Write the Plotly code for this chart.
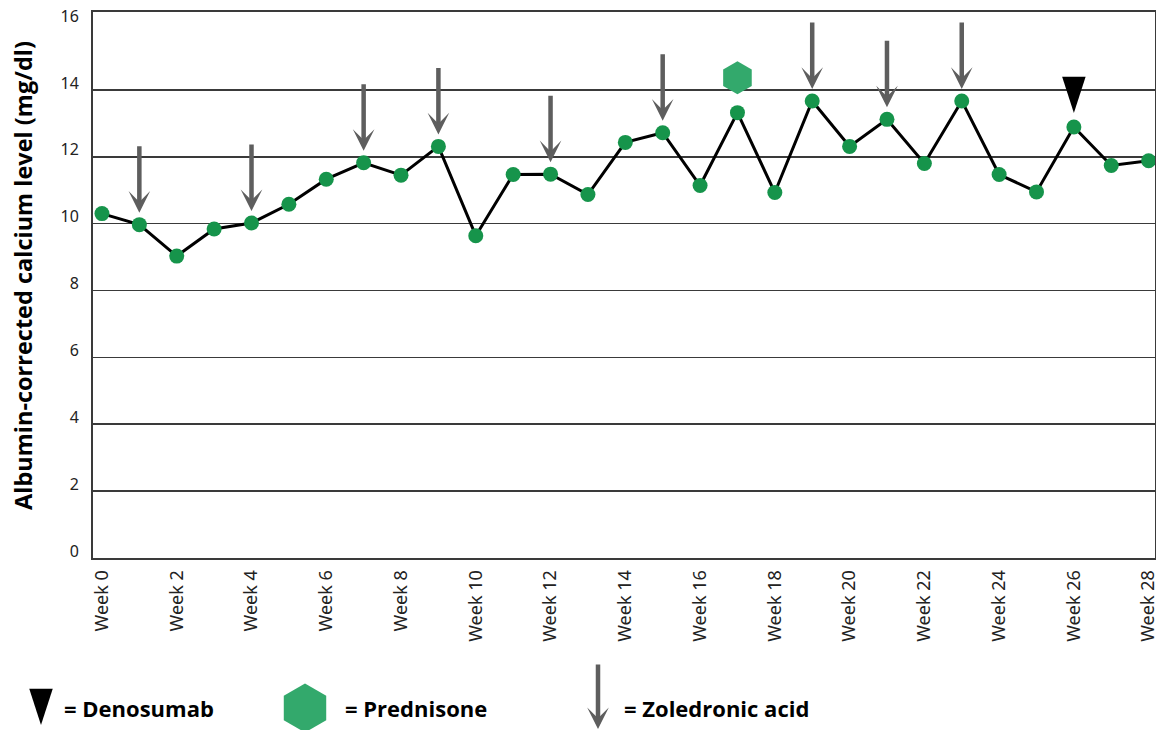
import plotly.graph_objects as go

# ---------------- data ----------------
weeks = list(range(0, 29))
calcium = [10.30, 9.97, 9.03, 9.84, 10.02, 10.58, 11.33, 11.82, 11.45, 12.31,
           9.64, 11.47, 11.48, 10.87, 12.43, 12.72, 11.14, 13.32, 10.93, 13.67,
           12.31, 13.12, 11.80, 13.67, 11.47, 10.95, 12.89, 11.74, 11.88]
tick_weeks = list(range(0, 29, 2))
tick_labels = [f"Week {w}" for w in tick_weeks]
y_ticks = list(range(0, 17, 2))
zoledronic_weeks = [1, 4, 7, 9, 12, 15, 19, 21, 23]
denosumab_weeks = [26]
prednisone_weeks = [17]
legend_labels = ["= Denosumab", "= Prednisone", "= Zoledronic acid"]

# ---------------- style ----------------
W, H = 1156, 730
M_T = 12
GREEN = "#16944b"
HEX_GREEN = "#33a96c"
ARROW_GRAY = "#5e5e5e"
GRID = "#3a3a3a"
TICK_FONT = "Noto Sans"
BOLD_FONT = "Open Sans"
DENO_OFFSET = 0.42   # triangle tip sits above the point
PRED_OFFSET = 1.04   # hexagon centre sits above the point

plot_h = H - M_T
x_dom = [93 / W, 1155 / W]
y_dom = [(H - 558) / plot_h, 1.0]
leg_dom = [0.0, 0.3]

fig = go.Figure()

# main line + points
fig.add_trace(go.Scatter(
    x=weeks, y=calcium, mode="lines+markers",
    line=dict(color="black", width=3),
    marker=dict(color=GREEN, size=15),
    showlegend=False, hoverinfo="skip", cliponaxis=False))

# prednisone hexagon
fig.add_trace(go.Scatter(
    x=prednisone_weeks, y=[calcium[w] + PRED_OFFSET for w in prednisone_weeks],
    mode="markers", marker=dict(symbol="hexagon", size=33, color=HEX_GREEN),
    showlegend=False, hoverinfo="skip", cliponaxis=False))

# denosumab triangle
fig.add_trace(go.Scatter(
    x=denosumab_weeks, y=[calcium[w] + DENO_OFFSET for w in denosumab_weeks],
    mode="markers", marker=dict(symbol="arrow", angle=180, size=38, color="black"),
    showlegend=False, hoverinfo="skip", cliponaxis=False))

# zoledronic acid arrows
for w in zoledronic_weeks:
    fig.add_annotation(x=w, y=calcium[w], xref="x", yref="y", text="",
                       showarrow=True, ax=0, ay=-80, standoff=12,
                       arrowhead=3, arrowsize=0.8, arrowwidth=4.5,
                       arrowcolor=ARROW_GRAY)

# ---------------- legend (pixel-space helper axes) ----------------
leg_key_x = [41, 305, 598]
leg_text_x = [62, 343, 622]
leg_y = 708
fig.add_trace(go.Scatter(
    x=[leg_key_x[0]], y=[725], xaxis="x2", yaxis="y2", mode="markers",
    marker=dict(symbol="arrow", angle=180, size=38, color="black"),
    showlegend=False, hoverinfo="skip", cliponaxis=False))
fig.add_trace(go.Scatter(
    x=[leg_key_x[1]], y=[leg_y], xaxis="x2", yaxis="y2", mode="markers",
    marker=dict(symbol="hexagon", size=49, color=HEX_GREEN),
    showlegend=False, hoverinfo="skip", cliponaxis=False))
fig.add_annotation(x=leg_key_x[2], y=729, xref="x2", yref="y2", text="",
                   showarrow=True, ax=0, ay=-66, standoff=0,
                   arrowhead=3, arrowsize=0.8, arrowwidth=4.5,
                   arrowcolor=ARROW_GRAY)
for tx, lab in zip(leg_text_x, legend_labels):
    fig.add_annotation(x=tx, y=leg_y, xref="x2", yref="y2", text=lab,
                       showarrow=False, xanchor="left", yanchor="middle",
                       font=dict(family=BOLD_FONT, size=22, color="black",
                                 weight="bold"))

# y axis title
fig.add_annotation(x=23 / W, y=(H - 276) / plot_h, xref="paper", yref="paper",
                   text="Albumin-corrected calcium level (mg/dl)",
                   textangle=-90, showarrow=False,
                   xanchor="center", yanchor="middle",
                   font=dict(family=BOLD_FONT, size=23.5, color="black",
                             weight="bold"))

fig.update_layout(
    width=W, height=H,
    margin=dict(l=0, r=0, t=M_T, b=0, autoexpand=False),
    paper_bgcolor="white", plot_bgcolor="rgba(0,0,0,0)",
    xaxis=dict(domain=x_dom, range=[-0.24, 28.17], tickvals=tick_weeks,
               ticktext=tick_labels, tickangle=-90, showgrid=False,
               zeroline=False, showline=True, linecolor=GRID, linewidth=2,
               mirror=True, ticks="", ticklabelstandoff=3,
               ticklabeloverflow="allow",
               tickfont=dict(family=TICK_FONT, size=18, color="#222222"),
               anchor="y"),
    yaxis=dict(domain=y_dom, range=[0, 16.33], tickvals=y_ticks,
               showgrid=False, zeroline=False, showline=True, linecolor=GRID,
               linewidth=2, mirror=True, ticks="", ticklabelstandoff=9,
               ticklabelshift=-7, ticklabeloverflow="allow",
               tickfont=dict(family=TICK_FONT, size=16, color="#222222"),
               minor=dict(tickvals=list(range(2, 15, 2)), showgrid=True,
                          gridcolor=GRID, gridwidth=1.6, ticks=""),
               anchor="x"),
    xaxis2=dict(domain=[0, 1], range=[0, W], visible=False, anchor="y2",
                fixedrange=True),
    yaxis2=dict(domain=leg_dom, range=[H, H - leg_dom[1] * plot_h],
                visible=False, anchor="x2", fixedrange=True),
)

fig.write_html("out.html",
               config={"displayModeBar": False, "staticPlot": True},
               post_script="document.body.style.margin='0';"
                           "document.body.style.overflow='hidden';")
